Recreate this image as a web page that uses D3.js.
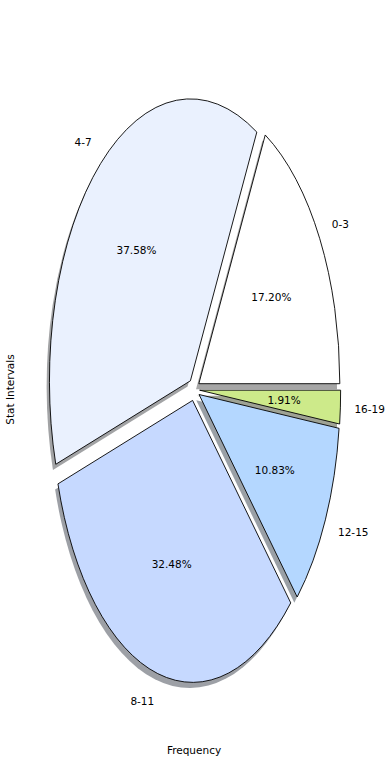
<!DOCTYPE html>
<html><head><meta charset="utf-8">
<script src="https://cdn.jsdelivr.net/npm/d3@7"></script>
<style>
html,body{margin:0;padding:0;background:#fff;}
svg{display:block;}
text{font-family:"DejaVu Sans",sans-serif;font-size:10.5px;fill:#000;}
</style></head>
<body>
<svg id="chart" width="390" height="780"></svg>
<script>
const categories = ["0-3", "4-7", "8-11", "12-15", "16-19"];
const percentages = [17.20, 37.58, 32.48, 10.83, 1.91];
const colors = ["#ffffff", "#eaf1fe", "#c6d9ff", "#b4d7ff", "#cdea8a"];
const explode = [0.04, 0.04, 0.04, 0.04, 0.04];
const xLabel = "Frequency";
const yLabel = "Stat Intervals";

const W = 390, H = 780;
const cx = 194, cy = 389.5, rx = 141, ry = 282;
const svg = d3.select("#chart");

const x = d3.scaleLinear().domain([-1, 1]).range([cx - rx, cx + rx]);
const y = d3.scaleLinear().domain([-1, 1]).range([cy + ry, cy - ry]);

const pie = d3.pie().sort(null).value(d => d).startAngle(Math.PI / 2).endAngle(Math.PI / 2 - 2 * Math.PI);
const arcs = pie(percentages);
const arc = d3.arc().innerRadius(0).outerRadius(1);

// math angle (ccw from 3 o'clock) of a d3 angle
const toMath = a => Math.PI / 2 - a;
const data = arcs.map((a, i) => {
  const mid = toMath((a.startAngle + a.endAngle) / 2);
  return { a, i, mid, ox: explode[i] * Math.cos(mid), oy: explode[i] * Math.sin(mid) };
});

const sx = rx, sy = ry;
const shadowDx = -0.02, shadowDy = -0.02;

// shadows
svg.append("g").selectAll("path").data(data).join("path")
  .attr("d", d => arc({ startAngle: Math.min(d.a.startAngle, d.a.endAngle), endAngle: Math.max(d.a.startAngle, d.a.endAngle) }))
  .attr("transform", d => `translate(${x(d.ox + shadowDx)},${y(d.oy + shadowDy)}) scale(${sx},${sy})`)
  .attr("fill", (d) => {
    const c = d3.rgb(colors[d.i]);
    return d3.rgb(c.r * 0.3, c.g * 0.3, c.b * 0.3).toString();
  })
  .attr("fill-opacity", 0.5)
  .attr("stroke", "none");

// wedges
svg.append("g").selectAll("path").data(data).join("path")
  .attr("d", d => arc({ startAngle: Math.min(d.a.startAngle, d.a.endAngle), endAngle: Math.max(d.a.startAngle, d.a.endAngle) }))
  .attr("transform", d => `translate(${x(d.ox)},${y(d.oy)}) scale(${sx},${sy})`)
  .attr("fill", d => colors[d.i])
  .attr("stroke", "#000")
  .attr("stroke-width", 0.9)
  .attr("stroke-linejoin", "miter")
  .attr("vector-effect", "non-scaling-stroke");

// category labels
svg.append("g").selectAll("text").data(data).join("text")
  .attr("x", d => x(d.ox + 1.1 * Math.cos(d.mid)))
  .attr("y", d => y(d.oy + 1.1 * Math.sin(d.mid)))
  .attr("text-anchor", d => Math.cos(d.mid) > 0 ? "start" : "end")
  .attr("dominant-baseline", "central")
  .text(d => categories[d.i]);

// percentage labels
svg.append("g").selectAll("text").data(data).join("text")
  .attr("x", d => x(d.ox + 0.6 * Math.cos(d.mid)))
  .attr("y", d => y(d.oy + 0.6 * Math.sin(d.mid)))
  .attr("text-anchor", "middle")
  .attr("dominant-baseline", "central")
  .text(d => percentages[d.i].toFixed(2) + "%");

// axis labels
svg.append("text").attr("x", cx).attr("y", 750)
  .attr("text-anchor", "middle").attr("dominant-baseline", "central").text(xLabel);
svg.append("text").attr("transform", `translate(10,${cy}) rotate(-90)`)
  .attr("text-anchor", "middle").attr("dominant-baseline", "central").text(yLabel);
</script>
</body></html>
